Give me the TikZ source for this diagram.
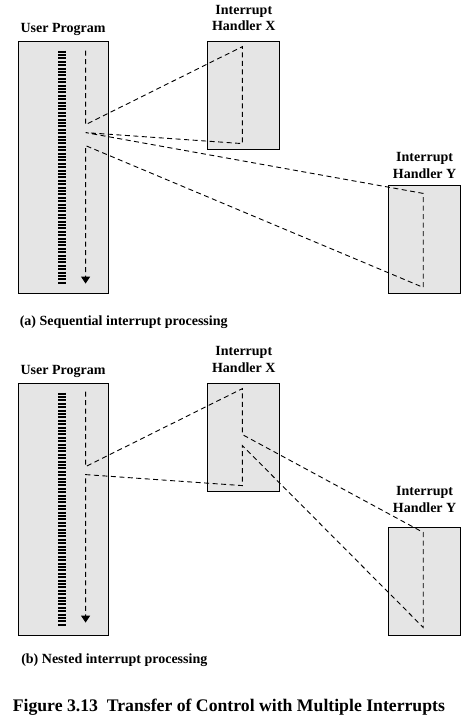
\documentclass[tikz,border=0pt]{standalone}
\usepackage{fontspec}
\setmainfont{Liberation Serif}
\usepackage{tikz}
\usetikzlibrary{positioning,arrows.meta}
\tikzstyle{block} = [draw, fill=black!10, rectangle, line width=0.8pt, inner sep=0pt]
\tikzstyle{program} = [block, minimum width=90pt, minimum height=252pt]
\tikzstyle{handler} = [block, minimum width=72pt, minimum height=108pt]
\tikzstyle{title} = [align=center, inner sep=0pt, text depth=0pt,
    font=\bfseries\fontsize{14}{16.6}\selectfont]
\tikzstyle{caption} = [inner sep=0pt, font=\bfseries\fontsize{14}{16}\selectfont]
\tikzstyle{point} = [coordinate]
\tikzstyle{code} = [line width=8pt, dash pattern=on 2pt off 1.4pt]
\tikzstyle{flow} = [line width=0.9pt, dash pattern=on 5pt off 3.5pt,
    -{Triangle[width=9pt,length=7pt]}]

\begin{document}
\begin{tikzpicture}[x=1pt, y=1pt]
    \useasboundingbox (0,0) rectangle (468,-717);
	% % % % % % % % % % % % % % % % % % % % % % %
    % (a) Sequential
    % % % % % % % % % % % % % % % % % % % % % % %
    % User program
    \node [program] (tup) at (63,-167) {};
    \node [title, above=8pt of tup] (tupt) {User Program};
    
    % Handler X
    \node [handler, below right=0pt and 99pt of tup.north east] (tx) {};
    \node [title, above=9.5pt of tx] (txt) {Interrupt\\Handler X};
    
    % Handler Y
    \node [handler, below right=36pt and 108pt of tx.south east] (ty) {};
    \node [title, above=6.7pt of ty] (tyt) {Interrupt\\Handler Y};
    
    % Code lines of the program
    \node [point, below right=10pt and 44pt of tup.north west] (tc0) {};
    \node [point, below right=244pt and 44pt of tup.north west] (tc1) {};
    
    % Points on the flow of control
    \node [point, below right=10pt and 68pt of tup.north west] (tp0) {};
    \node [point, below right=84pt and 68pt of tup.north west] (tp1) {};
    \node [point, below right=92pt and 68pt of tup.north west] (tp2) {};
    \node [point, below right=105pt and 68pt of tup.north west] (tp3) {};
    \node [point, below right=243pt and 68pt of tup.north west] (tp4) {};
    \node [point, below right=6pt and 35pt of tx.north west] (txa) {};
    \node [point, below right=103pt and 35pt of tx.north west] (txb) {};
    \node [point, below right=8pt and 35pt of ty.north west] (tya) {};
    \node [point, below right=102pt and 35pt of ty.north west] (tyb) {};
    
    \draw [code] (tc0) -- (tc1);
    \draw [flow] (tp0) -- (tp1) -- (txa) -- (txb) -- (tp2) -- (tya)
        -- (tyb) -- (tp3) -- (tp4);
    
    \node [caption, below right=22.5pt and 2pt of tup.south west] (capa)
        {(a) Sequential interrupt processing};
    
	% % % % % % % % % % % % % % % % % % % % % % %
    % (b) Nested
    % % % % % % % % % % % % % % % % % % % % % % %
    % User program
    \node [program, below=342pt of tup.north] (bup) {};
    \node [title, above=8pt of bup] (bupt) {User Program};
    
    % Handler X
    \node [handler, below right=0pt and 99pt of bup.north east] (bx) {};
    \node [title, above=10pt of bx] (bxt) {Interrupt\\Handler X};
    
    % Handler Y
    \node [handler, below right=36pt and 108pt of bx.south east] (by) {};
    \node [title, above=15pt of by] (byt) {Interrupt\\Handler Y};
    
    % Code lines of the program
    \node [point, below right=10pt and 44pt of bup.north west] (bc0) {};
    \node [point, below right=243pt and 44pt of bup.north west] (bc1) {};
    
    % Points on the flow of control
    \node [point, below right=9pt and 68pt of bup.north west] (bp0) {};
    \node [point, below right=84pt and 68pt of bup.north west] (bp1) {};
    \node [point, below right=92pt and 68pt of bup.north west] (bp2) {};
    \node [point, below right=240pt and 68pt of bup.north west] (bp3) {};
    \node [point, below right=6pt and 35pt of bx.north west] (bxa) {};
    \node [point, below right=52pt and 35pt of bx.north west] (bxb) {};
    \node [point, below right=63pt and 35pt of bx.north west] (bxc) {};
    \node [point, below right=103pt and 35pt of bx.north west] (bxd) {};
    \node [point, below right=5pt and 35pt of by.north west] (bya) {};
    \node [point, below right=100pt and 35pt of by.north west] (byb) {};
    
    \draw [code] (bc0) -- (bc1);
    \draw [flow] (bp0) -- (bp1) -- (bxa) -- (bxb) -- (bya) -- (byb)
        -- (bxc) -- (bxd) -- (bp2) -- (bp3);
    
    \node [caption, below right=18pt and 3.5pt of bup.south west] (capb)
        {(b) Nested interrupt processing};
    
    % Figure caption
    \node [inner sep=0pt, font=\bfseries\fontsize{17.7}{20}\selectfont,
        below right=63.7pt and -5pt of bup.south west] (fig)
        {Figure 3.13\ \ Transfer of Control with Multiple Interrupts};
\end{tikzpicture}
\end{document}
